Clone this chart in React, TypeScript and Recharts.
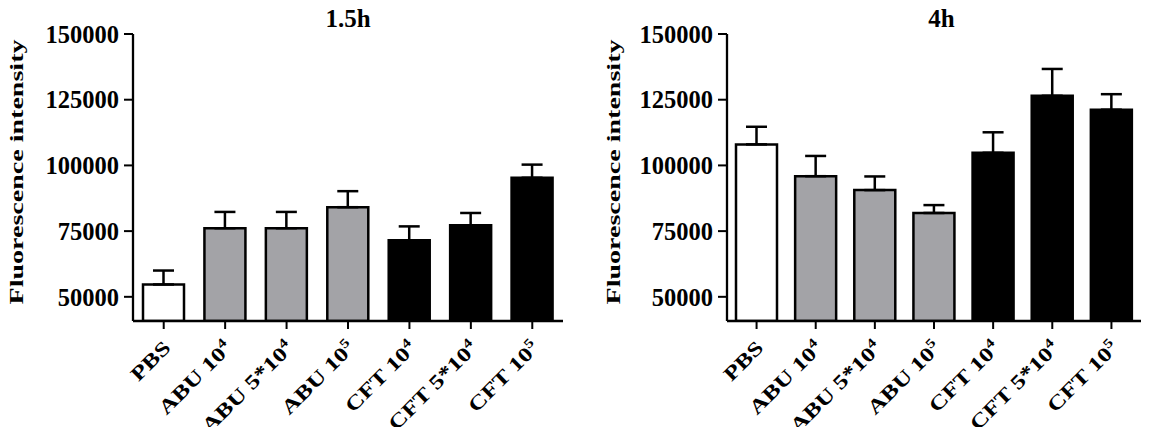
import React from 'react';
import { BarChart, Bar, XAxis, YAxis, ErrorBar, Cell, Label } from 'recharts';

const labelBase = ['PBS', 'ABU 10', 'ABU 5*10', 'ABU 10', 'CFT 10', 'CFT 5*10', 'CFT 10'];
const labelExp = ['', '4', '4', '5', '4', '4', '5'];
const groups = ['PBS', 'ABU', 'ABU', 'ABU', 'CFT', 'CFT', 'CFT'];

const mean15 = [54700, 76100, 76100, 84100, 71500, 77200, 95300];
const err15 = [5300, 6200, 6200, 6100, 5300, 4700, 5000];
const mean4 = [108000, 95900, 90600, 81900, 104800, 126500, 121200];
const err4 = [6700, 7700, 5200, 3000, 7800, 10200, 5900];

const yTicks = [50000, 75000, 100000, 125000, 150000];
const yMin = 40800;
const yMax = 150000;
const titles = ['1.5h', '4h'];

const groupFill: Record<string, string> = { PBS: '#ffffff', ABU: '#a3a3a7', CFT: '#000000' };
const FONT = "'Liberation Serif', 'Times New Roman', serif";

const buildData = (means: number[], errs: number[]) =>
  means.map((m, i) => ({ cat: labelBase[i] + labelExp[i], value: m, err: [0, errs[i]], group: groups[i] }));

const XTick = (props: any) => {
  const { x, y, payload } = props;
  const i = payload.index;
  const base = labelBase[i];
  const exp = labelExp[i];
  return (
    <g transform={`translate(${x + 8},${y + 18}) rotate(-45) scale(1.28,1)`}>
      <text textAnchor="end" fontFamily={FONT} fontWeight="bold" fontSize={20} fill="#000">
        {base}
        {exp ? (
          <tspan dy={-8} fontSize={13}>
            {exp}
          </tspan>
        ) : null}
      </text>
    </g>
  );
};

const makeYLabel = (dx: number) => (p: any) => {
  const vb = p.viewBox || { x: 0 };
  const cx = vb.x + dx;
  const cy = 172;
  return (
    <text
      x={cx}
      y={cy}
      transform={`rotate(-90, ${cx}, ${cy})`}
      textAnchor="middle"
      dominantBaseline="central"
      fontSize={18}
      fontWeight="bold"
      fontFamily={FONT}
      fill="#000"
      textLength={265}
      lengthAdjust="spacingAndGlyphs"
    >
      Fluorescence intensity
    </text>
  );
};

const Panel = ({ data, yWidth, labelDx }: { data: any[]; yWidth: number; labelDx: number }) => (
  <BarChart width={578} height={427} data={data} margin={{ top: 34, right: 15, bottom: 0, left: 0 }}>
    <XAxis
      dataKey="cat"
      height={106}
      interval={0}
      tick={<XTick />}
      tickSize={8}
      tickLine={{ stroke: '#000', strokeWidth: 2 }}
      axisLine={{ stroke: '#000', strokeWidth: 2.3 }}
    />
    <YAxis
      width={yWidth}
      domain={[yMin, yMax]}
      ticks={yTicks}
      allowDataOverflow
      tickSize={9}
      tickMargin={5}
      tickLine={{ stroke: '#000', strokeWidth: 2 }}
      axisLine={{ stroke: '#000', strokeWidth: 2.3 }}
      tick={{ fontSize: 24.5, fontFamily: FONT, fontWeight: 'bold', fill: '#000' }}
    >
      <Label content={makeYLabel(labelDx)} />
    </YAxis>
    <Bar dataKey="value" barSize={41} stroke="#000" strokeWidth={2.5} isAnimationActive={false}>
      {data.map((d, i) => (
        <Cell key={i} fill={groupFill[d.group]} />
      ))}
      <ErrorBar dataKey="err" width={10.5} stroke="#000" strokeWidth={2.5} direction="y" />
    </Bar>
  </BarChart>
);

export default function App() {
  const d15 = buildData(mean15, err15);
  const d4 = buildData(mean4, err4);
  return (
    <div style={{ position: 'absolute', left: 0, top: 0, width: 1156, height: 427, background: '#fff', overflow: 'hidden' }}>
      <div style={{ position: 'absolute', left: 0, top: 0 }}>
        <Panel data={d15} yWidth={133} labelDx={17} />
      </div>
      <div style={{ position: 'absolute', left: 578, top: 0 }}>
        <Panel data={d4} yWidth={149} labelDx={36} />
      </div>
      <svg width={1156} height={427} style={{ position: 'absolute', left: 0, top: 0, pointerEvents: 'none' }}>
        <text x={348} y={27} textAnchor="middle" fontSize={25} fontWeight="bold" fontFamily={FONT} fill="#000">
          {titles[0]}
        </text>
        <text x={941.5} y={27} textAnchor="middle" fontSize={25} fontWeight="bold" fontFamily={FONT} fill="#000">
          {titles[1]}
        </text>
      </svg>
    </div>
  );
}
